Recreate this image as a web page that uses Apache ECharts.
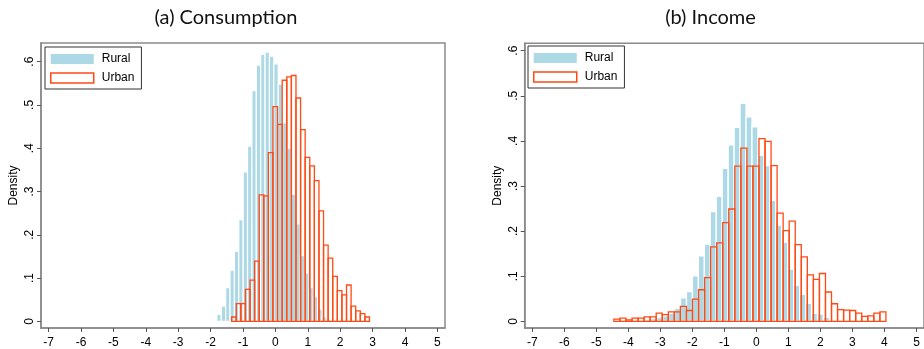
<!DOCTYPE html>
<html>
<head>
<meta charset="utf-8">
<script src="https://cdn.jsdelivr.net/npm/echarts@6/dist/echarts.min.js"></script>
<style>
  html, body { margin: 0; padding: 0; background: #fff; }
  #chart { width: 924px; height: 349px; }
</style>
</head>
<body>
<div id="chart"></div>
<script>
// tick values shared by both panels
const xTicks = [-7, -6, -5, -4, -3, -2, -1, 0, 1, 2, 3, 4, 5];
const yTicks = [0, 0.1, 0.2, 0.3, 0.4, 0.5, 0.6];

// (a) Consumption : bin start, bin width, densities
const consRuralStart = -1.806;
const consRuralWidth = 0.1352;
const consRural = [0.016, 0.035, 0.078, 0.118, 0.162, 0.235, 0.345, 0.405, 0.533, 0.592,
  0.617, 0.622, 0.613, 0.595, 0.548, 0.459, 0.400, 0.294, 0.225, 0.152,
  0.112, 0.078, 0.057, 0.028, 0.010, 0.005];

const consUrbanStart = -1.35;
const consUrbanWidth = 0.1418;
const consUrban = [0.010, 0.041, 0.041, 0.074, 0.095, 0.139, 0.292, 0.290, 0.390, 0.496,
  0.455, 0.557, 0.565, 0.568, 0.516, 0.443, 0.379, 0.359, 0.325, 0.255,
  0.176, 0.146, 0.104, 0.071, 0.061, 0.084, 0.035, 0.024, 0.018, 0.010];

// (b) Income
const incRuralStart = -3.485;
const incRuralWidth = 0.186;
const incRural = [0.004, 0.006, 0.008, 0.012, 0.018, 0.029, 0.052, 0.066, 0.101, 0.145,
  0.171, 0.243, 0.277, 0.339, 0.391, 0.430, 0.483, 0.453, 0.431, 0.368,
  0.345, 0.268, 0.213, 0.175, 0.116, 0.080, 0.060, 0.040, 0.018, 0.016, 0.009];

const incUrbanStart = -4.45;
const incUrbanWidth = 0.1888;
const incUrban = [0.005, 0.007, 0.003, 0.007, 0.007, 0.010, 0.010, 0.018, 0.015, 0.021,
  0.021, 0.033, 0.024, 0.049, 0.070, 0.097, 0.165, 0.174, 0.219, 0.249,
  0.344, 0.384, 0.344, 0.344, 0.405, 0.399, 0.345, 0.240, 0.201, 0.222,
  0.170, 0.143, 0.103, 0.093, 0.106, 0.065, 0.039, 0.026, 0.025, 0.024,
  0.018, 0.011, 0.012, 0.018, 0.021];

const RURAL = '#add8e6';
const URBAN = '#ff4a14';
const FRAME = '#8a8a8a';
const FONT = '"Liberation Sans", Arial, sans-serif';

// turn densities into [left edge, right edge, density]
function bins(start, width, values) {
  return values.map((v, i) => [start + i * width, start + (i + 1) * width, v]);
}

function barRenderer(fill, stroke, lineWidth) {
  return function (params, api) {
    const p0 = api.coord([api.value(0), api.value(2)]);
    const p1 = api.coord([api.value(1), 0]);
    return {
      type: 'rect',
      shape: { x: p0[0], y: p0[1], width: p1[0] - p0[0], height: p1[1] - p0[1] },
      style: { fill: fill, stroke: stroke, lineWidth: lineWidth }
    };
  };
}

function xAxis(gridIndex) {
  return {
    type: 'value', gridIndex: gridIndex, min: -7.235, max: 5.235,
    splitLine: { show: false },
    axisLine: { show: true, onZero: false, lineStyle: { color: FRAME, width: 1.5 } },
    axisTick: { show: true, customValues: xTicks, length: 4, lineStyle: { color: '#555' } },
    axisLabel: { customValues: xTicks, margin: 9, color: '#000', fontSize: 12, fontFamily: FONT }
  };
}

function yAxis(gridIndex, min, max) {
  return {
    type: 'value', gridIndex: gridIndex, min: min, max: max,
    name: 'Density', nameLocation: 'middle', nameGap: 21,
    nameTextStyle: { color: '#000', fontSize: 12, fontFamily: FONT },
    splitLine: { show: false },
    axisLine: { show: true, onZero: false, lineStyle: { color: FRAME, width: 1.5 } },
    axisTick: { show: true, customValues: yTicks, length: 4, lineStyle: { color: '#555' } },
    axisLabel: {
      customValues: yTicks, rotate: 90, margin: 5, color: '#000', fontSize: 12, fontFamily: FONT,
      formatter: v => (v === 0 ? '0' : v.toFixed(1).replace(/^0/, ''))
    }
  };
}

function legend(left, top) {
  return {
    orient: 'vertical', left: left, top: top,
    icon: 'rect', itemWidth: 43, itemHeight: 10, itemGap: 7,
    padding: [6, 7, 5, 5],
    borderColor: '#333', borderWidth: 1, backgroundColor: '#fff',
    selectedMode: false,
    textStyle: { color: '#000', fontSize: 12, fontFamily: FONT, padding: [0, 0, 0, 3] },
    data: [
      { name: 'Rural', itemStyle: { color: RURAL, borderWidth: 0 } },
      { name: 'Urban', itemStyle: { color: '#fff', borderColor: URBAN, borderWidth: 1.5 } }
    ]
  };
}

const chart = echarts.init(document.getElementById('chart'), null, { renderer: 'canvas' });

chart.setOption({
  backgroundColor: '#fff',
  animation: false,
  graphic: [
    { type: 'text', x: 226, y: 18, style: { text: '(a) Consumption', align: 'center', verticalAlign: 'middle',
      fill: '#111', font: '20px Lato, "DejaVu Sans", sans-serif' } },
    { type: 'text', x: 710.5, y: 18, style: { text: '(b) Income', align: 'center', verticalAlign: 'middle',
      fill: '#111', font: '20px Lato, "DejaVu Sans", sans-serif' } }
  ],
  grid: [
    { left: 41, top: 43, width: 404, height: 286, show: true, borderColor: FRAME, borderWidth: 1.5 },
    { left: 524.7, top: 43.3, width: 405, height: 285.7, show: true, borderColor: FRAME, borderWidth: 1.5 }
  ],
  legend: [legend(45, 47), legend(528, 46)],
  xAxis: [xAxis(0), xAxis(1)],
  yAxis: [yAxis(0, -0.0154, 0.6431), yAxis(1, -0.0148, 0.6163)],
  series: [
    { name: 'Rural', type: 'custom', xAxisIndex: 0, yAxisIndex: 0, itemStyle: { color: RURAL },
      renderItem: barRenderer(RURAL, '#fff', 1.2), data: bins(consRuralStart, consRuralWidth, consRural) },
    { name: 'Urban', type: 'custom', xAxisIndex: 0, yAxisIndex: 0, itemStyle: { color: URBAN },
      renderItem: barRenderer('none', URBAN, 1.3), data: bins(consUrbanStart, consUrbanWidth, consUrban) },
    { name: 'Rural', type: 'custom', xAxisIndex: 1, yAxisIndex: 1, itemStyle: { color: RURAL },
      renderItem: barRenderer(RURAL, '#fff', 1.3), data: bins(incRuralStart, incRuralWidth, incRural) },
    { name: 'Urban', type: 'custom', xAxisIndex: 1, yAxisIndex: 1, itemStyle: { color: URBAN },
      renderItem: barRenderer('none', URBAN, 1.3), data: bins(incUrbanStart, incUrbanWidth, incUrban) }
  ]
});
</script>
</body>
</html>
